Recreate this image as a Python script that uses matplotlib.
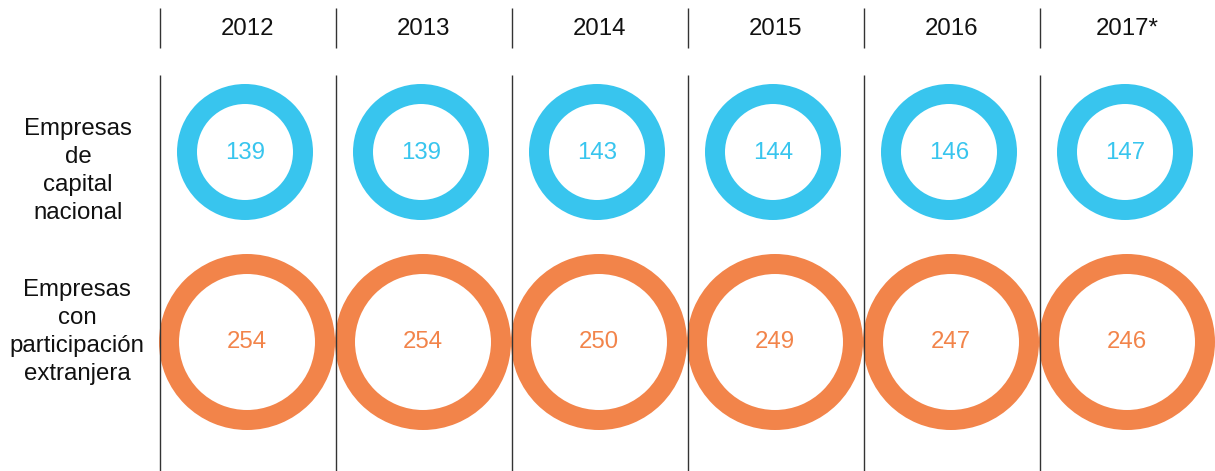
import matplotlib.pyplot as plt
from matplotlib.patches import Wedge

plt.rcParams['font.family'] = ['Liberation Sans', 'DejaVu Sans']

years = ['2012', '2013', '2014', '2015', '2016', '2017*']
nacional = [139, 139, 143, 144, 146, 147]
extranjera = [254, 254, 250, 249, 247, 246]
row_labels = ['Empresas\nde\ncapital\nnacional',
              'Empresas\ncon\nparticipación\nextranjera']

BLUE = '#38C5EE'
ORANGE = '#F2844A'


def main():
    fig = plt.figure(figsize=(12.15, 4.71), dpi=100)
    ax = fig.add_axes([0, 0, 1, 1])
    ax.set_xlim(0, 1215)
    ax.set_ylim(471, 0)
    ax.set_aspect('equal')
    ax.axis('off')

    x0, step = 160, 176
    for i in range(len(years)):
        xl = x0 + step * i
        ax.vlines(xl, 8, 48, color='#333333', lw=1)
        ax.vlines(xl, 75, 471, color='#333333', lw=1)
        cx = xl + 87
        ax.text(cx, 29, years[i], ha='center', va='center', fontsize=17.3, color='#111111')

        # blue ring row
        ax.add_patch(Wedge((cx - 2, 152), 68, 0, 360, width=20, facecolor=BLUE, edgecolor='none'))
        ax.text(cx - 2, 153, str(nacional[i]), ha='center', va='center', fontsize=17.3, color=BLUE)

        # orange ring row
        ax.add_patch(Wedge((cx, 342), 88, 0, 360, width=20, facecolor=ORANGE, edgecolor='none'))
        ax.text(cx, 342, str(extranjera[i]), ha='center', va='center', fontsize=17.3, color=ORANGE)

    ax.text(78, 171, row_labels[0], ha='center', va='center', fontsize=17.3,
            linespacing=1.36, color='#111111')
    ax.text(77, 332, row_labels[1], ha='center', va='center', fontsize=17.3,
            linespacing=1.36, color='#111111')

    fig.savefig('out.png', dpi=100)


if __name__ == "__main__":
    main()
